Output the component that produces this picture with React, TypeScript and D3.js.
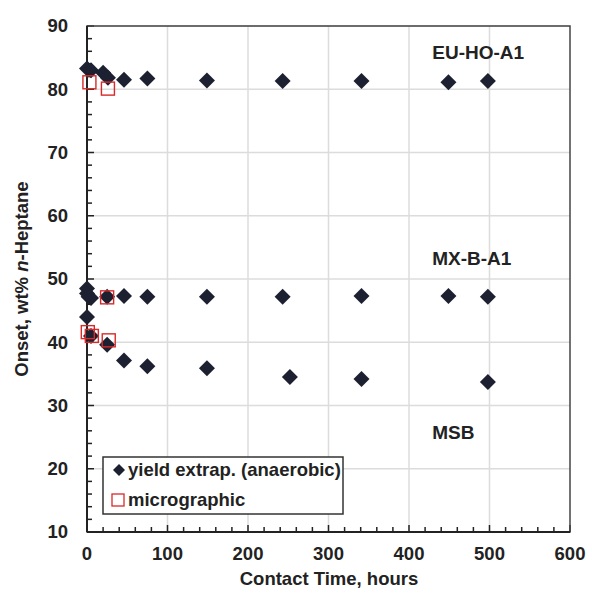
import React from "react";
import * as d3 from "d3";

const yieldEU: [number, number][] = [
  [0, 83.3], [5, 83.0], [20, 82.6], [26, 81.8], [46, 81.5], [75, 81.7],
  [149, 81.4], [243, 81.3], [341, 81.3], [449, 81.1], [498, 81.3],
];
const yieldMX: [number, number][] = [
  [0, 48.5], [0, 47.7], [2, 47.2], [5, 47.0], [25, 47.2], [46, 47.3],
  [75, 47.2], [149, 47.2], [243, 47.2], [341, 47.3], [449, 47.3], [498, 47.2],
];
const yieldMSB: [number, number][] = [
  [0, 44.0], [5, 41.0], [25, 39.6], [46, 37.1], [75, 36.2], [149, 35.9],
  [252, 34.5], [341, 34.2], [498, 33.7],
];
const micro: [number, number][] = [
  [3, 81.1], [26, 80.1], [25, 47.1], [1, 41.6], [6, 41.0], [27, 40.3],
];
const xTicks = [0, 100, 200, 300, 400, 500, 600];
const yTicks = [10, 20, 30, 40, 50, 60, 70, 80, 90];
const labels: { text: string; x: number; y: number }[] = [
  { text: "EU-HO-A1", x: 486, y: 85.9 },
  { text: "MX-B-A1", x: 478, y: 53.3 },
  { text: "MSB", x: 455, y: 25.8 },
];

const W = 592, H = 594;
const L = 87, R = 570, T = 26, B = 532;
const FONT = "'Liberation Sans', Arial, sans-serif";

export default function App() {
  const x = d3.scaleLinear().domain([0, 600]).range([L, R]);
  const y = d3.scaleLinear().domain([10, 90]).range([B, T]);
  const diamond = (cx: number, cy: number, r = 8) =>
    `M${cx},${cy - r}L${cx + r},${cy}L${cx},${cy + r}L${cx - r},${cy}Z`;
  const minorX = d3.range(0, 601, 20);
  const minorY = d3.range(10, 91, 2);
  const allYield = [...yieldEU, ...yieldMX, ...yieldMSB];
  return (
    <svg width={W} height={H} style={{ position: "absolute", left: 0, top: 0, background: "#fff" }}>
      <rect x={0} y={0} width={W} height={H} fill="#fff" />
      {/* grid */}
      {yTicks.slice(1).map((t) => (
        <line key={"gy" + t} x1={L} x2={R} y1={y(t)} y2={y(t)} stroke="#dcdcdc" strokeWidth={1.5} />
      ))}
      {xTicks.slice(1, -1).map((t) => (
        <line key={"gx" + t} x1={x(t)} x2={x(t)} y1={T} y2={B} stroke="#dcdcdc" strokeWidth={1.5} />
      ))}
      {/* minor ticks */}
      {minorX.map((t) => (
        <line key={"mx" + t} x1={x(t)} x2={x(t)} y1={B} y2={B - (t % 100 === 0 ? 7 : 5)} stroke="#222" strokeWidth={1.5} />
      ))}
      {minorY.map((t) => (
        <line key={"my" + t} x1={L} x2={L + (t % 10 === 0 ? 7 : 5)} y1={y(t)} y2={y(t)} stroke="#222" strokeWidth={1.5} />
      ))}
      {/* frame */}
      <rect x={L} y={T} width={R - L} height={B - T} fill="none" stroke="#444" strokeWidth={1.5} />
      <line x1={L} x2={L} y1={T} y2={B} stroke="#222" strokeWidth={2} />
      <line x1={L} x2={R} y1={B} y2={B} stroke="#222" strokeWidth={2} />
      {/* tick labels */}
      {yTicks.map((t) => (
        <text key={"yl" + t} x={L - 19} y={y(t)} dy="0.35em" textAnchor="end" fontFamily={FONT} fontWeight="bold" fontSize={18.5} fill="#222">
          {t}
        </text>
      ))}
      {xTicks.map((t) => (
        <text key={"xl" + t} x={x(t)} y={B + 28} textAnchor="middle" fontFamily={FONT} fontWeight="bold" fontSize={18.5} fill="#222">
          {t}
        </text>
      ))}
      {/* axis titles */}
      <text x={W / 2 + 33} y={585} textAnchor="middle" fontFamily={FONT} fontWeight="bold" fontSize={18.5} fill="#222">
        Contact Time, hours
      </text>
      <text transform={`translate(28,${(T + B) / 2}) rotate(-90)`} textAnchor="middle" fontFamily={FONT} fontWeight="bold" fontSize={18.5} fill="#222">
        Onset, wt% <tspan fontStyle="italic">n</tspan>-Heptane
      </text>
      {/* data */}
      {allYield.map(([a, b], i) => (
        <path key={"d" + i} d={diamond(x(a), y(b))} fill="#1c2030" />
      ))}
      {micro.map(([a, b], i) => (
        <rect key={"s" + i} x={x(a) - 6.5} y={y(b) - 6.5} width={13} height={13} fill="none" stroke="#d82a2a" strokeWidth={1.4} />
      ))}
      {/* series labels */}
      {labels.map((l) => (
        <text key={l.text} x={x(l.x)} y={y(l.y)} dy="0.35em" textAnchor="middle" fontFamily={FONT} fontWeight="bold" fontSize={19} fill="#222">
          {l.text}
        </text>
      ))}
      {/* legend */}
      <rect x={103} y={457} width={240} height={57} fill="#fff" stroke="#333" strokeWidth={1.5} />
      <path d={diamond(119, 470, 6)} fill="#1c2030" />
      <text x={128} y={470} dy="0.35em" fontFamily={FONT} fontWeight="bold" fontSize={18.5} fill="#222">
        yield extrap. (anaerobic)
      </text>
      <rect x={112} y={494} width={12} height={12} fill="none" stroke="#d82a2a" strokeWidth={1.3} />
      <text x={128} y={500} dy="0.35em" fontFamily={FONT} fontWeight="bold" fontSize={18.5} fill="#222">
        micrographic
      </text>
    </svg>
  );
}
